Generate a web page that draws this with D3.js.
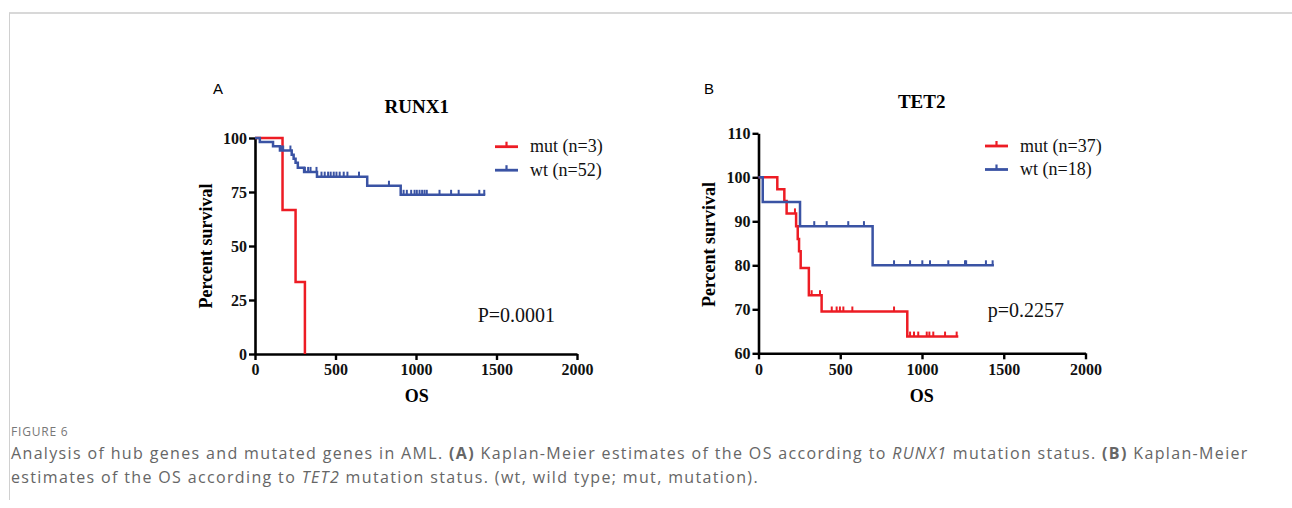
<!DOCTYPE html>
<html>
<head>
<meta charset="utf-8">
<script src="https://cdn.jsdelivr.net/npm/d3@7"></script>
<style>
  body { margin: 0; background: #fff; }
  svg { display: block; }
</style>
</head>
<body>
<svg id="chart" width="1292" height="508"></svg>
<script>
// tick labels
var timeTicks = [0, 500, 1000, 1500, 2000];
var runxTicks = [0, 25, 50, 75, 100];
var tetTicks = [60, 70, 80, 90, 100, 110];

// RUNX1 mut (n=3): event times, survival after each event, end of follow-up, censored times
var runxMutTimes = [171, 252, 310];
var runxMutSurv = [66.7, 33.3, 0];
var runxMutEnd = 310;
var runxMutCensor = [];

// RUNX1 wt (n=52)
var runxWtTimes = [30, 112, 155, 228, 240, 252, 266, 305, 385, 697, 905];
var runxWtSurv = [98.1, 96.2, 94.2, 92.3, 90.4, 88.5, 86.2, 84.3, 82.1, 77.9, 73.7];
var runxWtEnd = 1430;
var runxWtCensor = [165, 175, 220, 310, 330, 345, 382, 413, 433, 454, 470, 489, 506, 526, 551, 574, 646,
  832, 923, 943, 970, 991, 1005, 1022, 1038, 1053, 1067, 1146, 1218, 1265, 1393, 1424];

// TET2 mut (n=37)
var tetMutTimes = [115, 158, 172, 230, 240, 248, 258, 308, 386, 910];
var tetMutSurv = [97.3, 94.6, 91.8, 88.9, 86.0, 83.2, 79.4, 73.2, 69.5, 63.8];
var tetMutEnd = 1222;
var tetMutCensor = [223, 325, 376, 448, 478, 498, 519, 574, 829, 927, 951, 977, 1029, 1045, 1069, 1141, 1212];

// TET2 wt (n=18)
var tetWtTimes = [26, 254, 698];
var tetWtSurv = [94.4, 88.9, 80.0];
var tetWtEnd = 1440;
var tetWtCensor = [341, 417, 549, 645, 829, 927, 1002, 1049, 1161, 1263, 1270, 1391, 1432];

var red = "#ed1c24";
var blue = "#3a53a4";
var serif = "'Liberation Serif', 'Times New Roman', serif";

var svg = d3.select("#chart");

// page frame
svg.append("line").attr("x1", 9).attr("y1", 13).attr("x2", 1292).attr("y2", 13)
  .style("stroke", "#d8d8d8").style("stroke-width", 2);
svg.append("line").attr("x1", 9.5).attr("y1", 13).attr("x2", 9.5).attr("y2", 500)
  .style("stroke", "#d0d0d0").style("stroke-width", 1);

function survivalAt(times, surv, t) {
  var s = 100;
  for (var i = 0; i < times.length; i++) {
    if (times[i] <= t) s = surv[i];
  }
  return s;
}

function drawPanel(opt) {
  var g = svg.append("g");
  var x = d3.scaleLinear().domain([0, 2000]).range(opt.xRange);
  var y = d3.scaleLinear().domain(opt.yDomain).range(opt.yRange);

  // axes
  var yAxis = g.append("g")
    .attr("transform", "translate(" + opt.xRange[0] + ",0)")
    .call(d3.axisLeft(y).tickValues(opt.yTicks).tickFormat(d3.format("d"))
      .tickSize(6).tickSizeOuter(0).tickPadding(2));
  var xAxis = g.append("g")
    .attr("transform", "translate(0," + opt.yRange[0] + ")")
    .call(d3.axisBottom(x).tickValues(timeTicks).tickFormat(d3.format("d"))
      .tickSize(6).tickSizeOuter(0).tickPadding(4));
  [xAxis, yAxis].forEach(function(a) {
    a.select(".domain").style("stroke", "#000").style("stroke-width", 2.6);
    a.selectAll(".tick line").style("stroke", "#000").style("stroke-width", 2.4);
    a.selectAll(".tick text").style("font-family", serif).style("font-weight", "bold")
      .style("font-size", "16px").style("fill", "#111");
  });

  // curves
  opt.series.forEach(function(s) {
    var pts = [[0, 100]];
    s.times.forEach(function(t, i) { pts.push([t, s.surv[i]]); });
    pts.push([s.end, s.surv[s.surv.length - 1]]);
    var line = d3.line()
      .x(function(d) { return x(d[0]); })
      .y(function(d) { return y(d[1]); })
      .curve(d3.curveStepAfter);
    g.append("path").datum(pts)
      .attr("d", line)
      .style("fill", "none").style("stroke", s.color).style("stroke-width", 2.5);

    g.selectAll(null).data(s.censor).enter().append("line")
      .attr("x1", function(d) { return x(d); })
      .attr("x2", function(d) { return x(d); })
      .attr("y1", function(d) { return y(survivalAt(s.times, s.surv, d)); })
      .attr("y2", function(d) { return y(survivalAt(s.times, s.surv, d)) - 5; })
      .style("stroke", s.color).style("stroke-width", 2);
  });

  // legend
  opt.series.forEach(function(s, i) {
    var ly = opt.legendY + i * 23.5;
    g.append("line").attr("x1", opt.legendX).attr("x2", opt.legendX + 23)
      .attr("y1", ly).attr("y2", ly)
      .style("stroke", s.color).style("stroke-width", 2.8);
    g.append("line").attr("x1", opt.legendX + 11.5).attr("x2", opt.legendX + 11.5)
      .attr("y1", ly).attr("y2", ly - 5)
      .style("stroke", s.color).style("stroke-width", 2.2);
    g.append("text").attr("x", opt.legendX + 35).attr("y", ly + 5.5)
      .style("font-family", serif).style("font-size", "18px").style("fill", "#111")
      .text(s.label);
  });

  // labels
  g.append("text").attr("x", opt.letterX).attr("y", 94)
    .style("font-family", "'Liberation Sans', Arial, sans-serif").style("font-size", "15px")
    .text(opt.letter);
  g.append("text").attr("x", opt.titleX).attr("y", opt.titleY)
    .attr("text-anchor", "middle")
    .style("font-family", serif).style("font-weight", "bold").style("font-size", "19px")
    .text(opt.title);
  g.append("text").attr("x", opt.titleX).attr("y", 401.7)
    .attr("text-anchor", "middle")
    .style("font-family", serif).style("font-weight", "bold").style("font-size", "18px")
    .text("OS");
  g.append("text")
    .attr("transform", "translate(" + opt.yTitleX + "," + opt.yTitleY + ") rotate(-90)")
    .attr("text-anchor", "middle")
    .style("font-family", serif).style("font-weight", "bold").style("font-size", "18px")
    .text("Percent survival");
  g.append("text").attr("x", opt.pX).attr("y", opt.pY)
    .style("font-family", serif).style("font-size", "20px").style("fill", "#111")
    .text(opt.pText);
}

drawPanel({
  xRange: [255, 577], yDomain: [0, 100], yRange: [354, 138], yTicks: runxTicks,
  series: [
    { label: "mut (n=3)", color: red, times: runxMutTimes, surv: runxMutSurv, end: runxMutEnd, censor: runxMutCensor },
    { label: "wt (n=52)", color: blue, times: runxWtTimes, surv: runxWtSurv, end: runxWtEnd, censor: runxWtCensor }
  ],
  legendX: 495, legendY: 146.7,
  letter: "A", letterX: 213, title: "RUNX1", titleX: 416.7, titleY: 112.7,
  yTitleX: 212, yTitleY: 246, pText: "P=0.0001", pX: 477.7, pY: 321.7
});

drawPanel({
  xRange: [758.5, 1085.5], yDomain: [60, 110], yRange: [353.3, 133.3], yTicks: tetTicks,
  series: [
    { label: "mut (n=37)", color: red, times: tetMutTimes, surv: tetMutSurv, end: tetMutEnd, censor: tetMutCensor },
    { label: "wt (n=18)", color: blue, times: tetWtTimes, surv: tetWtSurv, end: tetWtEnd, censor: tetWtCensor }
  ],
  legendX: 985, legendY: 146,
  letter: "B", letterX: 704, title: "TET2", titleX: 921.7, titleY: 108.3,
  yTitleX: 715, yTitleY: 244.5, pText: "p=0.2257", pX: 987.7, pY: 316.7
});

// caption
svg.append("text").attr("x", 11).attr("y", 436)
  .style("font-family", "'Open Sans', sans-serif").style("font-size", "12px")
  .style("fill", "#777").style("letter-spacing", "0.8px")
  .text("FIGURE 6");

var capLines = [
  [["Analysis of hub genes and mutated genes in AML. ", ""], ["(A)", "b"], [" Kaplan-Meier estimates of the OS according to ", ""],
   ["RUNX1", "i"], [" mutation status. ", ""], ["(B)", "b"], [" Kaplan-Meier", ""]],
  [["estimates of the OS according to ", ""], ["TET2", "i"], [" mutation status. (wt, wild type; mut, mutation).", ""]]
];
capLines.forEach(function(parts, li) {
  var t = svg.append("text").attr("x", 11).attr("y", 459 + li * 24)
    .style("font-family", "'Open Sans', sans-serif").style("font-size", "16px")
    .style("letter-spacing", "1.35px").style("fill", "#666");
  parts.forEach(function(p) {
    t.append("tspan")
      .style("font-weight", p[1] === "b" ? "bold" : "normal")
      .style("font-style", p[1] === "i" ? "italic" : "normal")
      .text(p[0]);
  });
});
</script>
</body>
</html>
